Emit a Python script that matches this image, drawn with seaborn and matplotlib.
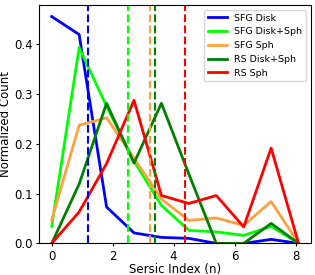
import numpy as np
import pandas as pd
import matplotlib
matplotlib.use('Agg')
import matplotlib.pyplot as plt
import seaborn as sns

# bin centres of the Sersic index histogram
sersic_n = [0.0, 0.9, 1.8, 2.7, 3.6, 4.5, 5.4, 6.3, 7.2, 8.1]

sfg_disk = [0.455, 0.419, 0.073, 0.021, 0.012, 0.010, 0.0, 0.0, 0.008, 0.0]
sfg_disk_sph = [0.034, 0.393, 0.275, 0.165, 0.076, 0.026, 0.023, 0.016, 0.034, 0.0]
sfg_sph = [0.047, 0.237, 0.252, 0.171, 0.089, 0.046, 0.051, 0.036, 0.084, 0.0]
rs_disk_sph = [0.0, 0.119, 0.281, 0.161, 0.281, 0.139, 0.0, 0.0, 0.040, 0.0]
rs_sph = [0.0, 0.063, 0.160, 0.287, 0.096, 0.080, 0.096, 0.033, 0.191, 0.0]

labels = ['SFG Disk', 'SFG Disk+Sph', 'SFG Sph', 'RS Disk+Sph', 'RS Sph']
colors = ['blue', 'lime', '#ffa040', 'green', 'red']
# median Sersic index of each sample (dashed lines)
medians = [1.20, 2.49, 3.21, 3.38, 4.37]

series = [sfg_disk, sfg_disk_sph, sfg_sph, rs_disk_sph, rs_sph]
rows = []
for lab, vals in zip(labels, series):
    for n, v in zip(sersic_n, vals):
        rows.append({'n': n, 'count': v, 'sample': lab})
df = pd.DataFrame(rows)

fig = plt.figure(figsize=(3.15, 2.75), dpi=100)
ax = fig.add_axes([0.125, 0.115, 0.862, 0.866])

sns.lineplot(data=df, x='n', y='count', hue='sample', hue_order=labels,
             palette=colors, linewidth=2, ax=ax)

for m, c in zip(medians, colors):
    ax.axvline(m, color=c, linestyle='--', linewidth=1.5)

ax.set_ylim(bottom=0)
ax.set_xticks([0, 2, 4, 6, 8])
ax.set_yticks([0.0, 0.1, 0.2, 0.3, 0.4])
ax.tick_params(labelsize=8.5, length=2.5, pad=2)
ax.set_xlabel('Sersic Index (n)', fontsize=8.5, labelpad=0)
ax.set_ylabel('Normalized Count', fontsize=8.5, labelpad=1.5)
ax.legend(loc='upper right', fontsize=6.8, title=None)

plt.savefig('out.png', dpi=100)
